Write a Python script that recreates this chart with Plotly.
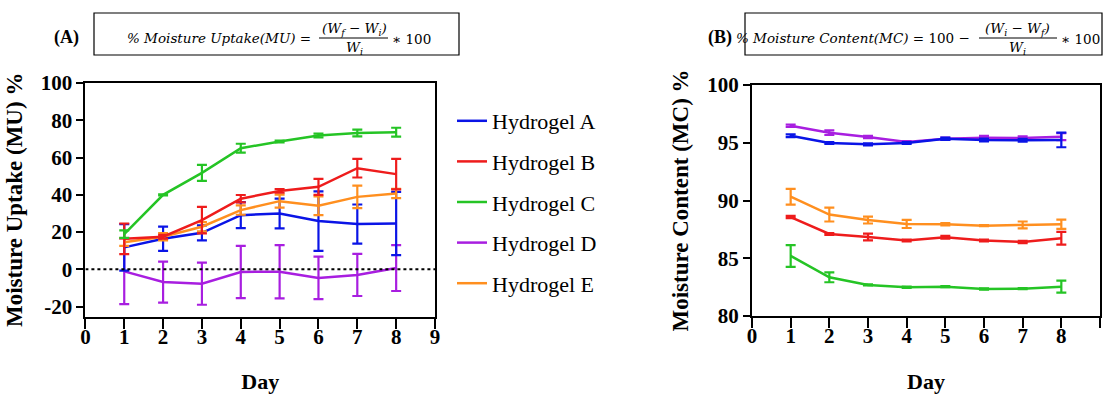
import plotly.graph_objects as go

days = [1, 2, 3, 4, 5, 6, 7, 8]
names = ["Hydrogel A", "Hydrogel B", "Hydrogel C", "Hydrogel D", "Hydrogel E"]
colors = ["#0a14e6", "#ee1c1c", "#25c425", "#a81ee0", "#ff8f1f"]

# Panel A: moisture uptake (%)
mu_A = [11.8, 16.4, 19.6, 29.1, 30.0, 25.9, 24.3, 24.6]
mu_A_err = [12.5, 6.5, 4.0, 7.0, 8.0, 16.0, 10.5, 17.0]
mu_B = [16.4, 17.5, 26.4, 37.9, 42.1, 44.3, 54.3, 51.1]
mu_B_err = [8.2, 1.0, 7.1, 2.0, 1.0, 4.3, 5.0, 8.2]
mu_C = [18.9, 40.0, 51.8, 65.0, 68.6, 71.8, 73.2, 73.6]
mu_C_err = [2.0, 0.3, 4.3, 2.4, 0.5, 1.0, 1.8, 2.4]
mu_D = [-1.1, -6.8, -7.7, -1.4, -1.25, -4.6, -3.0, 0.7]
mu_D_err = [17.6, 11.0, 11.3, 14.0, 14.3, 11.4, 11.3, 12.3]
mu_E = [14.6, 17.5, 22.9, 31.8, 36.6, 34.1, 38.9, 40.7]
mu_E_err = [2.0, 2.0, 2.5, 2.5, 3.5, 5.0, 6.0, 2.5]

# Panel B: moisture content (%)
mc_A = [95.61, 94.98, 94.86, 94.98, 95.35, 95.24, 95.21, 95.24]
mc_A_err = [0.12, 0.08, 0.08, 0.08, 0.1, 0.12, 0.12, 0.63]
mc_B = [88.57, 87.10, 86.84, 86.53, 86.81, 86.53, 86.41, 86.73]
mc_B_err = [0.1, 0.08, 0.3, 0.08, 0.12, 0.08, 0.1, 0.55]
mc_C = [85.2, 83.35, 82.69, 82.49, 82.54, 82.34, 82.37, 82.54]
mc_C_err = [0.94, 0.43, 0.05, 0.05, 0.05, 0.05, 0.05, 0.52]
mc_D = [96.48, 95.87, 95.50, 95.07, 95.35, 95.44, 95.41, 95.53]
mc_D_err = [0.1, 0.2, 0.1, 0.08, 0.1, 0.15, 0.15, 0.3]
mc_E = [90.33, 88.78, 88.31, 87.97, 87.94, 87.82, 87.88, 87.94]
mc_E_err = [0.68, 0.6, 0.3, 0.35, 0.1, 0.05, 0.3, 0.4]

mu_vals = [mu_A, mu_B, mu_C, mu_D, mu_E]
mu_errs = [mu_A_err, mu_B_err, mu_C_err, mu_D_err, mu_E_err]
mc_vals = [mc_A, mc_B, mc_C, mc_D, mc_E]
mc_errs = [mc_A_err, mc_B_err, mc_C_err, mc_D_err, mc_E_err]

x_ticks = list(range(0, 10))
x_ticktext = [str(v) for v in x_ticks]
mu_ticks = [-20, 0, 20, 40, 60, 80, 100]
mu_ticktext = ["-20", "0", "20", "40", "60", "80", "100"]
mc_ticks = [80, 85, 90, 95, 100]
mc_ticktext = ["80", "85", "90", "95", "100"]

W, H = 1105, 394
def px(x):
    return x / W
def py(y):
    return 1 - y / H

SERIF = "Liberation Serif"

fig = go.Figure()

order = [3, 0, 4, 1, 2]
for i in order:
    fig.add_trace(go.Scatter(
        x=days, y=mu_vals[i], name=names[i], mode="lines",
        line=dict(color=colors[i], width=2.5),
        error_y=dict(type="data", array=mu_errs[i], color=colors[i], thickness=2.2, width=5),
        legendgroup=names[i], legendrank=i + 1,
        xaxis="x", yaxis="y",
    ))
for i in order:
    fig.add_trace(go.Scatter(
        x=days, y=mc_vals[i], name=names[i], mode="lines",
        line=dict(color=colors[i], width=2.5),
        error_y=dict(type="data", array=mc_errs[i], color=colors[i], thickness=2.2, width=5),
        legendgroup=names[i], showlegend=False,
        xaxis="x2", yaxis="y2",
    ))

axis_common = dict(
    showline=True, linecolor="black", linewidth=2, mirror=True,
    ticks="outside", tickcolor="black", tickwidth=2,
    showgrid=False, zeroline=False, automargin=False,
    tickfont=dict(family=SERIF, size=21, color="black", weight="bold"),
)
title_font = dict(family=SERIF, size=23, color="black", weight="bold")
day_font = dict(family=SERIF, size=22, color="black", weight="bold")

fig.update_layout(
    width=W, height=H,
    margin=dict(l=0, r=0, t=0, b=0),
    paper_bgcolor="white", plot_bgcolor="white",
    showlegend=True,
    legend=dict(
        x=px(452), y=py(100), xanchor="left", yanchor="top",
        font=dict(family=SERIF, size=22, color="black"),
        tracegroupgap=9, itemwidth=30, bgcolor="rgba(0,0,0,0)",
    ),
    xaxis=dict(
        domain=[px(85.4), px(435)], range=[0, 9], tickvals=x_ticks, ticktext=x_ticktext, ticklen=10,
        ticklabelstandoff=-10,
        title=dict(text="Day", font=day_font, standoff=28),
        anchor="y", **axis_common,
    ),
    yaxis=dict(
        domain=[py(316.7), py(83)], range=[-25.4, 100], tickvals=mu_ticks, ticktext=mu_ticktext, ticklen=7,
        title=dict(text="Moisture Uptake (MU) %", font=title_font, standoff=12),
        anchor="x", **axis_common,
    ),
    xaxis2=dict(
        domain=[px(752), px(1100)], range=[0, 9], tickvals=x_ticks, ticktext=x_ticktext, ticklen=10,
        ticklabelstandoff=-10,
        title=dict(text="Day", font=day_font, standoff=28),
        anchor="y2", **axis_common,
    ),
    yaxis2=dict(
        domain=[py(316), py(85)], range=[80, 100], tickvals=mc_ticks, ticktext=mc_ticktext, ticklen=7,
        title=dict(text="Moisture Content (MC) %", font=title_font, standoff=12),
        anchor="x2", **axis_common,
    ),
)

# dotted zero line in panel A
fig.add_shape(type="line", xref="x", yref="y", x0=0, x1=9, y0=0, y1=0,
              line=dict(color="black", width=2, dash="dot"))

def note(x, y, text, font, xanchor="center"):
    fig.add_annotation(x=px(x), y=py(y), xref="paper", yref="paper", text=text,
                       xanchor=xanchor, yanchor="middle", showarrow=False, font=font)

# panel labels
note(66, 38, "<b>(A)</b>", dict(family=SERIF, size=18, color="black"))
note(720, 38, "<b>(B)</b>", dict(family=SERIF, size=18, color="black"))

# formula boxes
fig.add_shape(type="rect", xref="paper", yref="paper", x0=px(94), x1=px(459), y0=py(55), y1=py(13),
              line=dict(color="black", width=1.2))
fig.add_shape(type="rect", xref="paper", yref="paper", x0=px(745), x1=px(1102), y0=py(55), y1=py(13),
              line=dict(color="black", width=1.2))

FF = dict(family="DejaVu Serif", size=13.5, color="black")
# formula A
note(313, 38, "<i>% Moisture Uptake(MU) =</i>", FF, "right")
note(354, 29, "<i>(W<sub>f</sub> − W<sub>i</sub>)</i>", FF)
fig.add_shape(type="line", xref="paper", yref="paper", x0=px(319), x1=px(388), y0=py(38), y1=py(38),
              line=dict(color="black", width=1))
note(354, 48, "<i>W<sub>i</sub></i>", FF)
note(390, 39, "∗ 100", FF, "left")
# formula B
note(972, 38, "<i>% Moisture Content(MC)</i> = 100 −", FF, "right")
note(1018, 29, "<i>(W<sub>i</sub> − W<sub>f</sub>)</i>", FF)
fig.add_shape(type="line", xref="paper", yref="paper", x0=px(979), x1=px(1057), y0=py(38), y1=py(38),
              line=dict(color="black", width=1))
note(1018, 48, "<i>W<sub>i</sub></i>", FF)
note(1059, 39, "∗ 100", FF, "left")

fig.write_html("out.html")
